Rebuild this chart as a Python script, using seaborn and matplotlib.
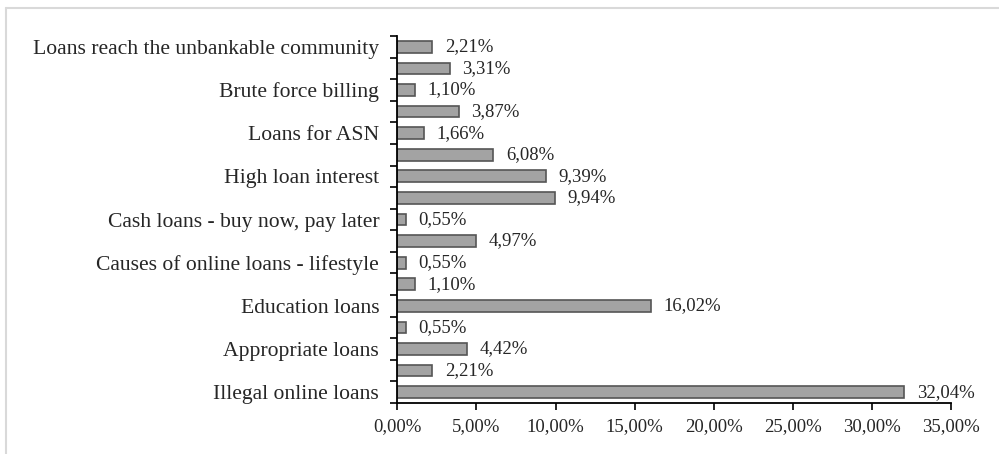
import matplotlib
matplotlib.use("Agg")
import matplotlib.pyplot as plt
from matplotlib.lines import Line2D
from matplotlib.ticker import FixedLocator
import seaborn as sns
import pandas as pd

# Categories from top to bottom (empty = unlabeled bar)
labels = [
    "Loans reach the unbankable community", "",
    "Brute force billing", "",
    "Loans for ASN", "",
    "High loan interest", "",
    "Cash loans - buy now, pay later", "",
    "Causes of online loans - lifestyle", "",
    "Education loans", "",
    "Appropriate loans", "",
    "Illegal online loans",
]
values = [2.21, 3.31, 1.10, 3.87, 1.66, 6.08, 9.39, 9.94, 0.55,
          4.97, 0.55, 1.10, 16.02, 0.55, 4.42, 2.21, 32.04]
xticks = [0, 5, 10, 15, 20, 25, 30, 35]

ids = [f"c{i}" for i in range(len(values))]
df = pd.DataFrame({"id": ids, "value": values})

sns.set_style("white")
plt.rcParams["font.family"] = ["Liberation Serif", "DejaVu Serif"]

fig = plt.figure(figsize=(9.99, 4.54), dpi=100)
ax = fig.add_axes([397.3 / 999, 1 - 403 / 454, (951 - 397.3) / 999, (403 - 36) / 454])

sns.barplot(data=df, x="value", y="id", order=ids, orient="h", ax=ax,
            color="#A3A3A3", edgecolor="#555555", linewidth=1.2,
            width=0.54, saturation=1)

ax.set_xlim(0, 35)
ax.set_ylim(len(values) - 0.5, -0.5)
ax.set_xlabel("")
ax.set_ylabel("")

ax.set_xticks(xticks)
ax.set_xticklabels([f"{t:.2f}".replace(".", ",") + "%" for t in xticks], fontsize=13.5)
ax.set_yticks(range(len(values)))
ax.set_yticklabels(labels, fontsize=15.6)
ax.yaxis.set_minor_locator(FixedLocator([i - 0.5 for i in range(len(values) + 1)]))
ax.tick_params(axis="y", which="major", length=0, pad=13)
ax.tick_params(axis="y", which="minor", length=5, width=1.2, color="black", direction="out", left=True)
ax.tick_params(axis="x", which="major", length=5, width=1.2, color="black", direction="out", bottom=True, pad=6)

for s in ["top", "right"]:
    ax.spines[s].set_visible(False)
for s in ["left", "bottom"]:
    ax.spines[s].set_color("black")
    ax.spines[s].set_linewidth(1.3)

for i, v in enumerate(values):
    ax.annotate(f"{v:.2f}".replace(".", ",") + "%", xy=(v, i), xytext=(9, 0),
                textcoords="offset points", ha="left", va="center", fontsize=13.5)

# light gray outer frame (top and left)
fig.add_artist(Line2D([5.5 / 999, 1], [1 - 7.5 / 454, 1 - 7.5 / 454],
                      transform=fig.transFigure, color="#D9D9D9", linewidth=1.5))
fig.add_artist(Line2D([5.5 / 999, 5.5 / 999], [0, 1 - 7.5 / 454],
                      transform=fig.transFigure, color="#D9D9D9", linewidth=1.5))

fig.savefig("out.png", dpi=100)
